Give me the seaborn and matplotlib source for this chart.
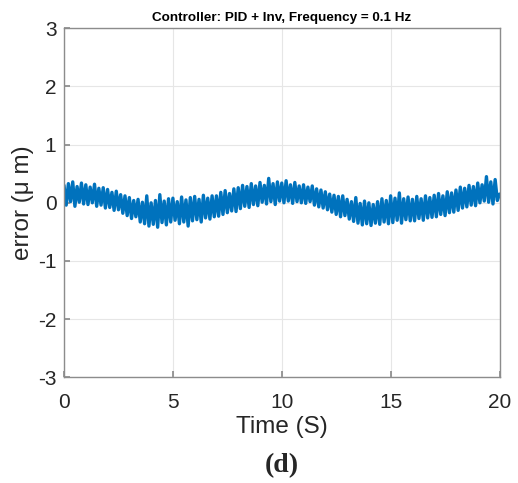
import numpy as np
import pandas as pd
import matplotlib
matplotlib.use("Agg")
import matplotlib.pyplot as plt
import seaborn as sns

# Tracking error sampled every 0.1 s, 0 .. 20 s (one row per second)
time_s = [round(0.1 * i, 1) for i in range(201)]
error_um = [
    0.30, -0.04, 0.33, 0.02, 0.36, -0.06, 0.28, 0.01, 0.34, -0.02,
    0.31, -0.03, 0.27, 0.00, 0.32, -0.06, 0.25, -0.04, 0.26, -0.09,
    0.23, -0.08, 0.18, -0.13, 0.20, -0.12, 0.14, -0.18, 0.12, -0.22,
    0.09, -0.27, 0.04, -0.24, 0.06, -0.33, 0.01, -0.36, 0.12, -0.40,
    0.00, -0.37, 0.04, -0.42, 0.14, -0.34, 0.03, -0.38, 0.07, -0.33,
    0.08, -0.30, 0.02, -0.36, 0.10, -0.33, 0.05, -0.40, 0.09, -0.31,
    0.11, -0.29, 0.06, -0.33, 0.13, -0.26, 0.08, -0.28, 0.12, -0.24,
    0.12, -0.23, 0.18, -0.20, 0.21, -0.17, 0.16, -0.14, 0.24, -0.15,
    0.26, -0.10, 0.30, -0.06, 0.28, -0.08, 0.33, -0.03, 0.29, -0.05,
    0.35, 0.01, 0.30, -0.02, 0.42, 0.02, 0.33, -0.03, 0.36, 0.03,
    0.34, 0.00, 0.38, 0.03, 0.31, -0.01, 0.35, 0.02, 0.29, 0.00,
    0.31, -0.01, 0.27, 0.02, 0.29, -0.04, 0.24, -0.07, 0.22, -0.09,
    0.19, -0.12, 0.15, -0.16, 0.13, -0.20, 0.11, -0.24, 0.12, -0.22,
    0.06, -0.28, 0.02, -0.32, 0.09, -0.35, -0.01, -0.38, 0.03, -0.36,
    0.00, -0.39, -0.03, -0.35, 0.02, -0.37, 0.07, -0.33, 0.04, -0.36,
    0.12, -0.34, 0.08, -0.30, 0.17, -0.35, 0.07, -0.29, 0.10, -0.31,
    0.06, -0.31, 0.11, -0.27, 0.07, -0.30, 0.12, -0.26, 0.09, -0.25,
    0.13, -0.24, 0.16, -0.20, 0.12, -0.22, 0.19, -0.17, 0.17, -0.16,
    0.22, -0.13, 0.27, -0.09, 0.25, -0.07, 0.30, -0.04, 0.28, -0.05,
    0.34, 0.00, 0.31, 0.03, 0.45, 0.01, 0.36, -0.02, 0.40, 0.04,
    0.15,
]

x_ticks = [0, 5, 10, 15, 20]
y_ticks = [-3, -2, -1, 0, 1, 2, 3]

sns.set_theme(style="whitegrid")
plt.rcParams["font.family"] = ["Liberation Sans", "DejaVu Sans"]

df = pd.DataFrame({"Time": time_s, "error": error_um})

fig = plt.figure(figsize=(5.18, 4.83), dpi=100)
ax = fig.add_axes([0.1236, 0.2188, 0.8407, 0.7226])

sns.lineplot(data=df, x="Time", y="error", ax=ax, color="#0072BD",
             linewidth=2.4, estimator=None, sort=False)

ax.set_xlim(0, 20)
ax.set_ylim(-3, 3)
ax.set_xticks(x_ticks)
ax.set_yticks(y_ticks)
ax.set_xticklabels([str(v) for v in x_ticks])
ax.set_yticklabels([str(v) for v in y_ticks])

ax.grid(True, color="#e6e6e6", linewidth=0.8)
for side in ["left", "right", "top", "bottom"]:
    ax.spines[side].set_visible(True)
    ax.spines[side].set_color("#8c8c8c")
    ax.spines[side].set_linewidth(1.0)

ax.tick_params(axis="both", which="major", direction="in", length=4,
               color="#8c8c8c", labelsize=15, labelcolor="#262626",
               bottom=True, left=True)
ax.tick_params(axis="x", pad=11.5)
ax.tick_params(axis="y", pad=5.5)

ax.set_xlabel("Time (S)", fontsize=17.5, color="#262626", labelpad=3)
ax.set_ylabel("error (μ m)", fontsize=17.5, color="#262626", labelpad=3)
ax.set_title("Controller: PID + Inv, Frequency = 0.1 Hz", fontsize=9.7,
             fontweight="bold", color="black", pad=5)

fig.text(0.5438, 0.035, "(d)", ha="center", va="center", fontsize=20,
         fontweight="bold", family=["Liberation Serif", "DejaVu Serif"])

fig.savefig("out.png", dpi=100, facecolor="white")
